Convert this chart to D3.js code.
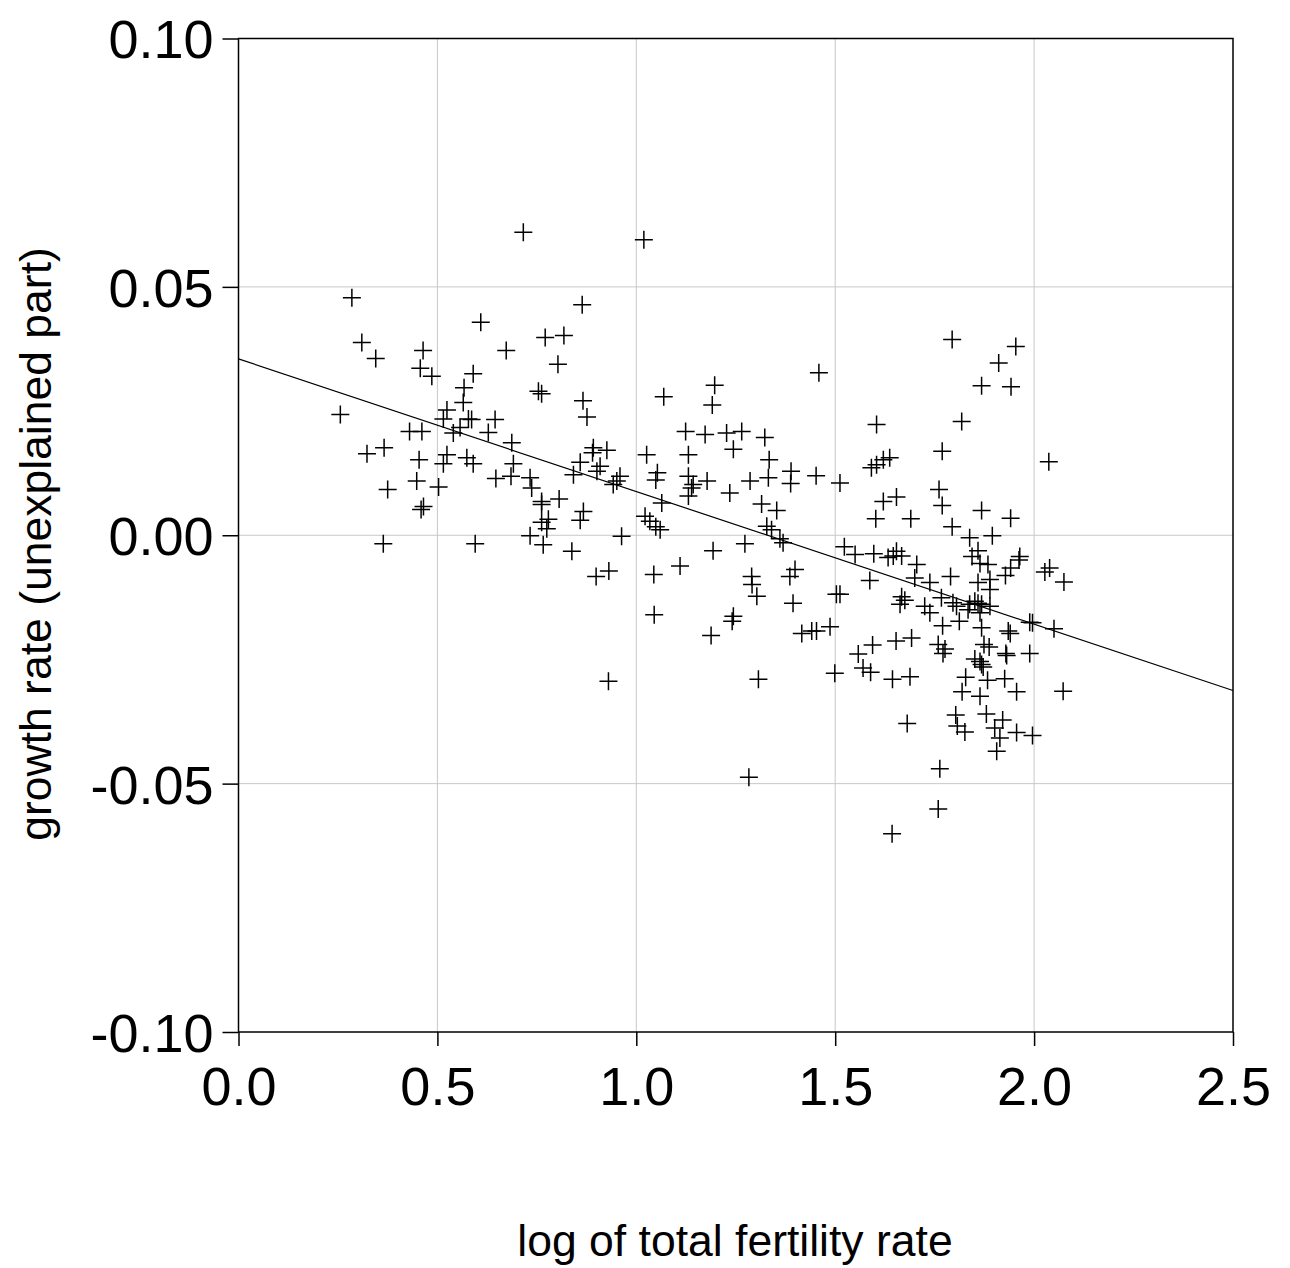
<!DOCTYPE html>
<html>
<head>
<meta charset="utf-8">
<script src="https://cdn.jsdelivr.net/npm/d3@7"></script>
<style>
html,body{margin:0;padding:0;background:#fff;}
svg{display:block;}
text{font-family:"Liberation Sans",Arial,Helvetica,sans-serif;fill:#000;}
</style>
</head>
<body>
<svg id="chart" width="1290" height="1268"></svg>
<script>
// ---- data ----
const xTicks = [0.0, 0.5, 1.0, 1.5, 2.0, 2.5];
const yTicks = [-0.10, -0.05, 0.00, 0.05, 0.10];
const xTickLabels = ["0.0", "0.5", "1.0", "1.5", "2.0", "2.5"];
const yTickLabels = ["-0.10", "-0.05", "0.00", "0.05", "0.10"];
const xTitle = "log of total fertility rate";
const yTitle = "growth rate (unexplained part)";
const fitIntercept = 0.0355;
const fitSlope = -0.0267;

const logTFR = [
0.716,1.019,0.285,0.609,0.864,0.310,0.345,0.464,0.673,0.771,0.818,0.803,0.457,0.486,0.590,0.567,0.565,0.524,0.515,0.578,
0.586,0.645,0.256,0.430,0.461,0.540,0.557,0.628,0.754,0.762,0.866,0.876,1.069,1.197,1.191,1.124,1.173,1.459,1.604,1.227,
1.265,1.323,1.794,1.954,1.911,1.868,1.942,1.818,0.323,0.366,0.454,0.524,0.515,0.574,0.590,0.448,0.503,0.375,0.465,0.459,
0.647,0.685,0.691,0.687,0.364,0.595,0.892,0.926,0.890,0.859,0.909,0.901,0.842,0.959,0.951,0.942,0.733,0.737,0.762,0.762,
0.806,0.867,0.859,0.779,0.762,0.775,0.733,0.766,0.963,0.838,0.899,0.931,1.026,1.131,1.053,1.049,1.131,1.143,1.139,1.131,
1.178,1.064,1.022,1.034,1.049,1.060,1.193,1.110,1.044,1.045,1.244,1.334,1.389,1.286,1.332,1.388,1.452,1.512,1.235,1.315,
1.353,1.328,1.340,1.361,1.369,1.273,1.290,1.291,1.303,1.399,1.386,1.394,1.244,1.591,1.604,1.621,1.637,1.621,1.654,1.602,
1.690,1.523,1.550,1.597,1.633,1.646,1.654,1.667,1.705,1.587,1.503,1.512,1.667,1.675,1.663,1.700,1.769,2.037,1.761,1.769,
1.868,1.941,1.794,1.838,1.895,1.859,1.844,1.864,1.884,1.964,1.962,1.941,1.928,2.027,2.039,2.075,1.790,1.738,1.859,1.889,
1.889,1.767,1.796,1.805,1.838,1.851,1.859,1.868,1.889,1.834,1.864,1.725,1.738,0.930,1.188,1.307,1.283,1.416,1.441,1.453,
1.487,1.499,1.558,1.594,1.653,1.692,1.570,1.589,1.644,1.688,1.681,1.643,1.241,1.770,1.812,1.868,1.935,1.940,1.989,1.996,
2.050,1.759,1.776,1.771,1.874,1.887,1.929,1.931,1.989,1.851,1.864,1.868,1.872,1.828,1.883,1.926,1.819,1.864,1.956,2.073,
1.803,1.880,1.921,1.807,1.826,1.901,1.914,1.956,1.996,1.906,1.763,1.759
];
const growthResid = [
0.0610,0.0595,0.0478,0.0429,0.0464,0.0388,0.0356,0.0372,0.0372,0.0398,0.0402,0.0344,0.0336,0.0320,0.0325,0.0297,0.0267,0.0252,0.0234,0.0234,
0.0233,0.0233,0.0243,0.0209,0.0209,0.0206,0.0217,0.0207,0.0290,0.0285,0.0271,0.0238,0.0279,0.0302,0.0262,0.0209,0.0203,0.0327,0.0223,0.0206,
0.0209,0.0197,0.0394,0.0380,0.0347,0.0301,0.0299,0.0229,0.0164,0.0176,0.0152,0.0162,0.0144,0.0156,0.0144,0.0109,0.0097,0.0092,0.0058,0.0052,
0.0114,0.0119,0.0144,0.0186,-0.0017,-0.0017,0.0176,0.0171,0.0166,0.0147,0.0139,0.0129,0.0122,0.0119,0.0109,0.0102,0.0116,0.0095,0.0068,0.0062,
0.0073,0.0048,0.0030,0.0032,0.0026,0.0013,-0.0001,-0.0019,-0.0002,-0.0032,-0.0083,-0.0072,0.0162,0.0162,0.0126,0.0111,0.0119,0.0102,0.0095,0.0079,
0.0109,0.0065,0.0038,0.0028,0.0017,0.0011,-0.0031,-0.0062,-0.0079,-0.0160,0.0173,0.0152,0.0129,0.0109,0.0116,0.0104,0.0120,0.0105,0.0085,0.0063,
0.0050,0.0018,0.0011,-0.0007,-0.0015,-0.0017,-0.0083,-0.0099,-0.0123,-0.0069,-0.0083,-0.0137,-0.0163,0.0136,0.0142,0.0152,0.0156,0.0068,0.0077,0.0033,
0.0033,-0.0023,-0.0039,-0.0037,-0.0045,-0.0042,-0.0032,-0.0042,-0.0059,-0.0091,-0.0119,-0.0119,-0.0124,-0.0131,-0.0139,-0.0086,0.0169,0.0148,0.0092,0.0060,
0.0050,0.0034,0.0017,-0.0005,-0.0001,-0.0031,-0.0043,-0.0057,-0.0059,-0.0043,-0.0050,-0.0066,-0.0081,-0.0074,-0.0066,-0.0094,-0.0083,-0.0095,-0.0095,-0.0089,
-0.0109,-0.0126,-0.0136,-0.0143,-0.0139,-0.0133,-0.0137,-0.0139,-0.0143,-0.0150,-0.0156,-0.0143,-0.0156,-0.0294,-0.0202,-0.0290,-0.0487,-0.0198,-0.0193,-0.0193,
-0.0184,-0.0278,-0.0239,-0.0221,-0.0213,-0.0207,-0.0267,-0.0276,-0.0290,-0.0285,-0.0379,-0.0601,-0.0173,-0.0182,-0.0173,-0.0186,-0.0193,-0.0198,-0.0175,-0.0176,
-0.0188,-0.0220,-0.0229,-0.0238,-0.0220,-0.0225,-0.0238,-0.0242,-0.0238,-0.0249,-0.0254,-0.0260,-0.0265,-0.0286,-0.0292,-0.0289,-0.0315,-0.0324,-0.0315,-0.0314,
-0.0362,-0.0360,-0.0372,-0.0384,-0.0396,-0.0388,-0.0408,-0.0397,-0.0403,-0.0435,-0.0470,-0.0551
];

// ---- layout ----
const svg = d3.select("#chart");
const L = 238.5, R = 1233, T = 38.5, B = 1032;
const x = d3.scaleLinear().domain([0, 2.5]).range([L, R]);
const y = d3.scaleLinear().domain([-0.10, 0.10]).range([B, T]);

// gridlines
const grid = svg.append("g").attr("stroke", "#c8c8c8").attr("stroke-width", 1);
grid.selectAll("line.gx").data(xTicks.slice(1, -1)).join("line")
  .attr("x1", d => x(d)).attr("x2", d => x(d)).attr("y1", T).attr("y2", B);
grid.selectAll("line.gy").data(yTicks.slice(1, -1)).join("line")
  .attr("y1", d => y(d)).attr("y2", d => y(d)).attr("x1", L).attr("x2", R);

// fit line
svg.append("line")
  .attr("x1", x(0)).attr("y1", y(fitIntercept))
  .attr("x2", x(2.5)).attr("y2", y(fitIntercept + fitSlope * 2.5))
  .attr("stroke", "#000").attr("stroke-width", 1.2);

// markers (plus signs)
const pts = logTFR.map((v, i) => [v, growthResid[i]]);
const arm = 9;
svg.append("g").selectAll("path").data(pts).join("path")
  .attr("d", d => {
    const cx = x(d[0]), cy = y(d[1]);
    return `M${cx - arm},${cy}H${cx + arm}M${cx},${cy - arm}V${cy + arm}`;
  })
  .attr("stroke", "#000").attr("stroke-width", 1.5).attr("fill", "none");

// frame
svg.append("rect").attr("x", L).attr("y", T).attr("width", R - L).attr("height", B - T)
  .attr("fill", "none").attr("stroke", "#000").attr("stroke-width", 1.5);

// axes
const fmtX = (d, i) => xTickLabels[i];
const fmtY = (d, i) => yTickLabels[i];
const xAxis = svg.append("g").attr("transform", `translate(0,${B})`)
  .call(d3.axisBottom(x).tickValues(xTicks).tickFormat(fmtX).tickSize(14).tickPadding(21));
const yAxis = svg.append("g").attr("transform", `translate(${L},0)`)
  .call(d3.axisLeft(y).tickValues(yTicks).tickFormat(fmtY).tickSize(16).tickPadding(9));
[xAxis, yAxis].forEach(a => {
  a.select(".domain").remove();
  a.selectAll(".tick line").attr("stroke", "#000").attr("stroke-width", 1.5);
  a.selectAll(".tick text").attr("font-family", '"Liberation Sans",Arial,sans-serif')
    .attr("font-size", 54).attr("fill", "#000");
});
yAxis.selectAll(".tick text").attr("dy", "0.36em");

// titles
svg.append("text").attr("x", 735).attr("y", 1256).attr("text-anchor", "middle")
  .attr("font-size", 44.5).text(xTitle);
svg.append("text").attr("transform", "translate(51,544) rotate(-90)")
  .attr("text-anchor", "middle").attr("font-size", 44.5).text(yTitle);
</script>
</body>
</html>
